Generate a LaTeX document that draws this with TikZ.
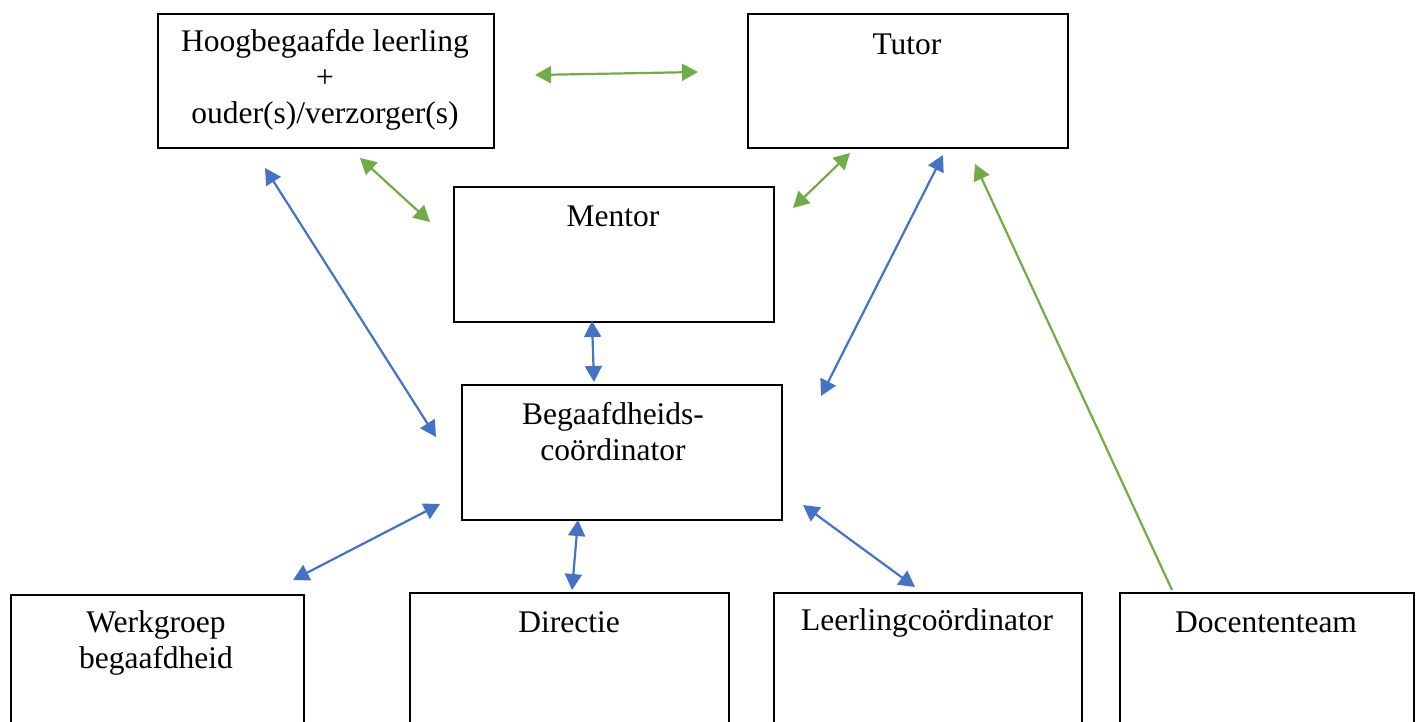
\documentclass[tikz,border=0pt]{standalone}
\usepackage{fontspec}
\setmainfont{Liberation Serif}
\usetikzlibrary{arrows.meta}
\definecolor{wblue}{HTML}{4472C4}
\definecolor{wgreen}{HTML}{70AD47}
\tikzset{
  box/.style={draw=black, line width=2pt, anchor=north west, inner sep=0pt},
  lbl/.style={font=\fontsize{31.5}{36}\selectfont, align=center, inner sep=0pt},
  bluearrow/.style={draw=wblue, line width=2.2pt},
  greenarrow/.style={draw=wgreen, line width=2.2pt},
  twoway/.style={{Triangle[length=16pt,width=17pt]}-{Triangle[length=16pt,width=17pt]}},
  oneway/.style={-{Triangle[length=16pt,width=17pt]}}
}
\begin{document}
\begin{tikzpicture}[x=1pt,y=-1pt]
\useasboundingbox (0,0) rectangle (1418,722);
% boxes
\node[box, minimum width=336pt, minimum height=134pt] (hb) at (157,13) {};
\node[box, minimum width=320pt, minimum height=134pt] (tutor) at (747,13) {};
\node[box, minimum width=320pt, minimum height=135pt] (mentor) at (453,186) {};
\node[box, minimum width=320pt, minimum height=135pt] (bc) at (461,384) {};
\node[box, minimum width=293pt, minimum height=180pt] (wg) at (10,594) {};
\node[box, minimum width=319pt, minimum height=180pt] (dir) at (409,592) {};
\node[box, minimum width=308pt, minimum height=180pt] (lc) at (773,592) {};
\node[box, minimum width=294pt, minimum height=180pt] (dt) at (1119,592) {};
% texts
\node[lbl] (thb) at (325,80) {Hoogbegaafde leerling\\+\\ouder(s)/verzorger(s)};
\node[lbl] (ttutor) at (907,44) {Tutor};
\node[lbl] (tmentor) at (613,216) {Mentor};
\node[lbl] (tbc) at (613,432) {Begaafdheids-\\coördinator};
\node[lbl] (twg) at (156,643) {Werkgroep\\begaafdheid};
\node[lbl] (tdir) at (569,622) {Directie};
\node[lbl] (tlc) at (927,623) {Leerlingcoördinator};
\node[lbl] (tdt) at (1266,622) {Docententeam};
% arrow end points
\coordinate (g1a) at (535,75);  \coordinate (g1b) at (698,72);
\coordinate (g2a) at (360,158); \coordinate (g2b) at (430,222);
\coordinate (g3a) at (850,153); \coordinate (g3b) at (793,208);
\coordinate (g4a) at (1172,590); \coordinate (g4b) at (975,164);
\coordinate (b1a) at (265,168); \coordinate (b1b) at (436,437);
\coordinate (b2a) at (943,155); \coordinate (b2b) at (821,396);
\coordinate (b3a) at (592,321); \coordinate (b3b) at (594,382);
\coordinate (b4a) at (440,504); \coordinate (b4b) at (293,580);
\coordinate (b5a) at (578,520); \coordinate (b5b) at (572,590);
\coordinate (b6a) at (803,505); \coordinate (b6b) at (915,587);
% green connectors
\draw[greenarrow, twoway] (g1a) -- (g1b);
\draw[greenarrow, twoway] (g2a) -- (g2b);
\draw[greenarrow, twoway] (g3a) -- (g3b);
\draw[greenarrow, oneway] (g4a) -- (g4b);
% blue connectors
\draw[bluearrow, twoway] (b1a) -- (b1b);
\draw[bluearrow, twoway] (b2a) -- (b2b);
\draw[bluearrow, twoway] (b3a) -- (b3b);
\draw[bluearrow, twoway] (b4a) -- (b4b);
\draw[bluearrow, twoway] (b5a) -- (b5b);
\draw[bluearrow, twoway] (b6a) -- (b6b);
\end{tikzpicture}
\end{document}
